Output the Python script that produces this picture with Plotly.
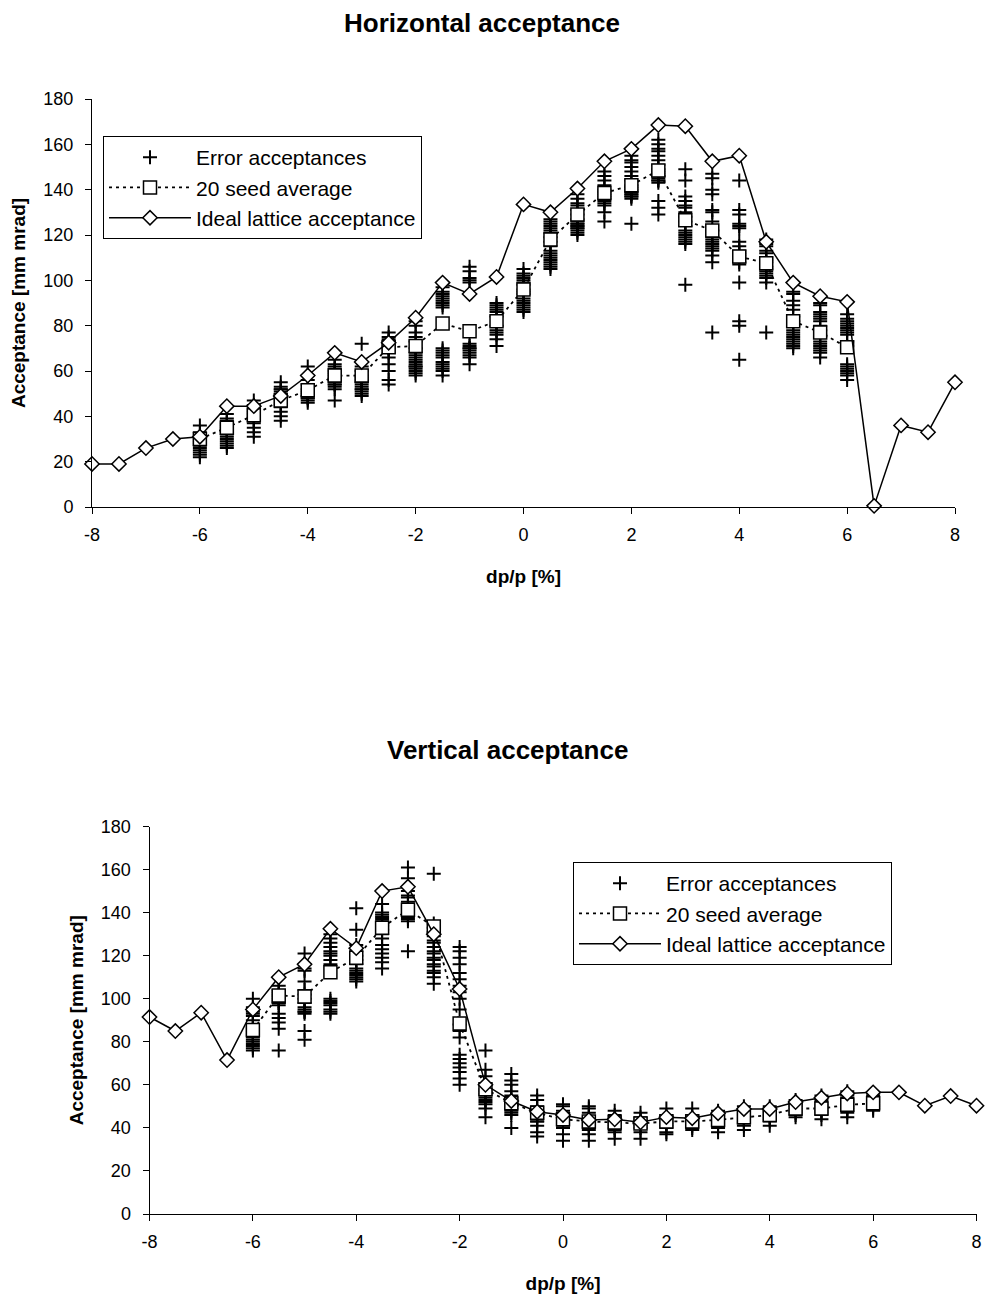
import plotly.graph_objects as go

# Momentum offsets (dp/p in %)
dp_full = [-8, -7.5, -7, -6.5, -6, -5.5, -5, -4.5, -4, -3.5, -3, -2.5, -2, -1.5, -1, -0.5,
           0, 0.5, 1, 1.5, 2, 2.5, 3, 3.5, 4, 4.5, 5, 5.5, 6, 6.5, 7, 7.5, 8]
dp_err = [-6, -5.5, -5, -4.5, -4, -3.5, -3, -2.5, -2, -1.5, -1, -0.5,
          0, 0.5, 1, 1.5, 2, 2.5, 3, 3.5, 4, 4.5, 5, 5.5, 6]

# Horizontal plane
h_ideal = [19, 19, 26, 30, 31, 44.5, 44.5, 49, 58, 68, 64, 72.5, 83.5, 99, 94, 101.5,
           133.5, 130, 140.5, 152.5, 158, 168.5, 168, 152.5, 155, 117, 99, 93, 90.5,
           0.5, 36, 33, 55]
h_avg = [30, 35, 40.5, 47, 51.5, 58, 58, 70.5, 71, 81, 77.5, 82,
         96, 118, 129, 138.5, 142, 148.5, 126.5, 122, 110.5, 107.5, 82, 77, 70.5]
h_err = [
    [36, 33, 31, 30, 29, 28, 27, 26, 25, 24, 23, 22],
    [41, 39, 38, 37, 36, 35, 34, 33, 32, 31, 30, 29, 28, 27, 26],
    [47, 45, 44, 43, 42, 41, 40, 39, 38, 37, 35, 33, 31],
    [55, 53, 52, 52, 51, 50, 49, 48, 47, 46, 45, 44, 42, 40, 38],
    [62, 58, 56, 54, 52, 51, 50, 49, 49, 48, 48, 47, 46],
    [65, 63, 62, 61, 60, 59, 58, 57, 56, 55, 54, 54, 53, 52, 47],
    [72, 62, 60, 58, 57, 56, 55, 55, 54, 53, 52, 52, 51, 50, 49],
    [77, 75, 74, 73, 72, 71, 70, 70, 69, 68, 66, 63, 60, 56, 54],
    [82, 80, 77, 75, 73, 70, 68, 67, 66, 65, 64, 63, 62, 62, 61, 60, 59, 58],
    [97, 95, 94, 93, 92, 91, 90, 89, 88, 70, 69, 68, 67, 66, 64, 63, 62, 61, 60, 58],
    [106, 104, 101, 100, 99, 72, 71, 70, 70, 69, 68, 67, 66, 63],
    [90, 89, 88, 87, 86, 84, 80, 78, 77, 76, 74, 71],
    [105, 103, 102, 101, 100, 99, 98, 96, 95, 94, 92, 91, 90, 89, 88, 87, 86],
    [127, 126, 125, 124, 123, 122, 121, 119, 117, 115, 113, 112, 111, 110, 109, 108, 107, 106, 105],
    [138, 136, 134, 133, 131, 129, 127, 126, 125, 125, 124, 124, 123, 123, 122, 121, 120],
    [148, 146, 144, 142, 140, 139, 138, 137, 136, 135, 134, 133, 130, 126],
    [155, 153, 152, 150, 148, 146, 144, 142, 141, 140, 139, 139, 138, 138, 137, 137, 136, 125],
    [162, 160, 158, 157, 155, 153, 151, 149, 148, 147, 146, 146, 145, 144, 144, 143, 135, 132, 129],
    [149, 144, 137, 135, 133, 132, 130, 128, 126, 124, 122, 121, 120, 119, 118, 117, 116, 98],
    [147, 145, 140, 138, 131, 130, 126, 122, 119, 118, 117, 116, 115, 114, 113, 111, 108, 77],
    [144, 131, 129, 125, 124, 123, 117, 115, 113, 112, 111, 110, 108, 107, 99, 82, 80, 65],
    [118, 116, 115, 113, 112, 110, 109, 108, 106, 105, 104, 103, 102, 101, 99, 77],
    [95, 94, 91, 89, 87, 84, 82, 80, 78, 77, 76, 75, 74, 73, 72, 71, 70],
    [90, 89, 86, 85, 84, 83, 82, 80, 78, 76, 75, 73, 72, 71, 70, 69, 68, 66],
    [85, 83, 82, 81, 80, 79, 78, 77, 76, 73, 71, 63, 62, 61, 60, 59, 58, 56],
]

# Vertical plane
v_ideal = [91.5, 85, 93.5, 71.5, 95, 110, 116, 132.5, 123.5, 150, 152, 130, 104.5, 60, 52.5, 47.5,
           46, 43.7, 44, 42.6, 45, 44.5, 46.8, 48.8, 48.8, 52, 54, 56, 56.5, 56.5, 50.3, 54.8, 50.3]
v_avg = [85.5, 101.5, 101, 112.3, 119, 133, 141.3, 133.5, 88.5, 58, 51.5, 47,
         44, 43, 42.5, 42, 43, 43, 43.7, 45, 46, 49, 49, 50.7, 51.4]
v_err = [
    [100, 96, 94, 93, 92, 90, 88, 87, 86, 85, 84, 83, 82, 81, 80, 79, 78, 77, 76],
    [106, 104, 103, 102, 101, 100, 99, 98, 98, 97, 93, 91, 89, 86, 76],
    [121, 116, 114, 113, 108, 104, 102, 100, 98, 96, 95, 94, 94, 93, 85, 81],
    [130, 128, 126, 124, 122, 121, 120, 118, 116, 100, 99, 98, 97, 95, 94, 93],
    [142, 132, 125, 122, 120, 118, 116, 114, 113, 112, 111, 110, 109, 108],
    [150, 144, 140, 139, 138, 137, 136, 134, 132, 130, 128, 125, 123, 121, 119, 117, 114],
    [161, 156, 150, 148, 147, 145, 143, 142, 141, 140, 139, 138, 137, 136, 122],
    [158, 135, 133, 131, 129, 127, 126, 124, 122, 121, 119, 118, 116, 115, 113, 112, 110, 107],
    [124, 122, 119, 116, 112, 109, 106, 103, 100, 95, 88, 85, 82, 74, 72, 70, 68, 66, 63, 60],
    [76, 67, 64, 60, 58, 57, 56, 55, 54, 53, 52, 51, 49, 45],
    [65, 62, 60, 57, 55, 54, 53, 52, 51, 50, 49, 48, 47, 46, 40],
    [55, 53, 50, 49, 48, 47, 46, 45, 44, 43, 43, 41, 38, 36],
    [51, 50, 48, 47, 46, 45, 44, 43, 42, 41, 40, 37, 34],
    [50, 49, 47, 45, 44, 43, 42, 41, 40, 39, 37, 34],
    [48, 46, 44, 43, 42, 41, 40, 39, 38, 35],
    [47, 45, 44, 43, 42, 41, 40, 38, 35],
    [49, 46, 45, 44, 43, 42, 41, 40, 38, 37],
    [49, 46, 45, 44, 43, 42, 41, 40, 39],
    [48, 46, 45, 44, 43, 42, 41, 40, 38],
    [50, 48, 47, 46, 45, 44, 43, 42, 41, 39],
    [50, 49, 48, 47, 46, 45, 44, 43, 41],
    [53, 52, 51, 50, 49, 48, 47, 46, 45],
    [55, 53, 52, 51, 50, 49, 48, 47, 46, 44],
    [57, 55, 54, 53, 52, 51, 50, 49, 48, 47, 45],
    [56, 55, 54, 53, 52, 51, 50, 49, 48],
]

x_ticks = [-8, -6, -4, -2, 0, 2, 4, 6, 8]
x_labels = ["-8", "-6", "-4", "-2", "0", "2", "4", "6", "8"]
y_ticks = [0, 20, 40, 60, 80, 100, 120, 140, 160, 180]

FONT = "Arial, Liberation Sans, sans-serif"
NAMES = ["Error acceptances", "20 seed average", "Ideal lattice acceptance"]


def flatten(xs, groups):
    fx, fy = [], []
    for x, vals in zip(xs, groups):
        for v in vals:
            fx.append(x)
            fy.append(v)
    return fx, fy


def add_panel(fig, err, avg, ideal, xa, ya, legend):
    ex, ey = flatten(dp_err, err)
    fig.add_trace(go.Scatter(
        x=ex, y=ey, mode="markers", name=NAMES[0], legend=legend, legendgroup=legend + "a",
        xaxis=xa, yaxis=ya, cliponaxis=False,
        marker=dict(symbol="cross-thin", size=10, line=dict(width=2, color="black"), color="black"),
    ))
    fig.add_trace(go.Scatter(
        x=dp_err, y=avg, mode="lines+markers", name=NAMES[1], legend=legend, legendgroup=legend + "b",
        xaxis=xa, yaxis=ya, cliponaxis=False,
        line=dict(color="black", width=1.8, dash="3px,4px"),
        marker=dict(symbol="square", size=13, color="white", line=dict(width=1.5, color="black")),
    ))
    fig.add_trace(go.Scatter(
        x=dp_full, y=ideal, mode="lines+markers", name=NAMES[2], legend=legend, legendgroup=legend + "c",
        xaxis=xa, yaxis=ya, cliponaxis=False,
        line=dict(color="black", width=1.5),
        marker=dict(symbol="diamond", size=11, color="white", line=dict(width=1.5, color="black")),
    ))


fig = go.Figure()
add_panel(fig, h_err, h_avg, h_ideal, "x", "y", "legend")
add_panel(fig, v_err, v_avg, v_ideal, "x2", "y2", "legend2")

W, H = 985, 1295


def xaxis(domain, anchor, **kw):
    d = dict(domain=domain, anchor=anchor, range=[-8, 8], tickvals=x_ticks, ticktext=x_labels,
             automargin=False,
             showgrid=False, zeroline=False, showline=True, linecolor="black", linewidth=1,
             ticks="outside", ticklen=6, tickwidth=1, tickcolor="black",
             tickfont=dict(family=FONT, size=18, color="black"), ticklabelstandoff=5,
             title=dict(text="<b>dp/p [%]</b>", font=dict(family=FONT, size=19, color="black"), standoff=26))
    d.update(kw)
    return d


def yaxis(domain, anchor, **kw):
    d = dict(domain=domain, anchor=anchor, range=[0, 180], tickvals=y_ticks,
             automargin=False,
             showgrid=False, zeroline=False, showline=True, linecolor="black", linewidth=1,
             ticks="outside", ticklen=6, tickwidth=1, tickcolor="black",
             tickfont=dict(family=FONT, size=18, color="black"), ticklabelstandoff=8,
             title=dict(text="<b>Acceptance [mm mrad]</b>", font=dict(family=FONT, size=19, color="black"),
                        standoff=12))
    d.update(kw)
    return d


def inner_ticks(base, anchor, vals, rng):
    return dict(overlaying=base, anchor=anchor, range=rng, tickvals=vals, showticklabels=False,
                automargin=False, showgrid=False, zeroline=False, showline=False,
                ticks="inside", ticklen=6, tickwidth=1, tickcolor="black")


top_x = [92 / W, 955 / W]
top_y = [1 - 507 / H, 1 - 99 / H]
bot_x = [149.5 / W, 976.5 / W]
bot_y = [1 - 1214 / H, 1 - 826.5 / H]

legend_style = dict(bgcolor="white", bordercolor="black", borderwidth=1,
                    font=dict(family=FONT, size=21, color="black"),
                    xanchor="left", yanchor="top", tracegroupgap=0, itemwidth=82,
                    traceorder="grouped")

fig.update_layout(
    width=W, height=H, margin=dict(l=0, r=0, t=0, b=0, autoexpand=False),
    paper_bgcolor="white", plot_bgcolor="white", showlegend=True,
    font=dict(family=FONT, color="black"),
    xaxis=xaxis(top_x, "y"),
    yaxis=yaxis(top_y, "x"),
    xaxis2=xaxis(bot_x, "y2"),
    yaxis2=yaxis(bot_y, "x2"),
    xaxis3=inner_ticks("x", "y", x_ticks, [-8, 8]),
    yaxis3=inner_ticks("y", "x", y_ticks, [0, 180]),
    xaxis4=inner_ticks("x2", "y2", x_ticks, [-8, 8]),
    yaxis4=inner_ticks("y2", "x2", y_ticks, [0, 180]),
    legend=dict(x=103 / W, y=1 - 136 / H, **legend_style),
    legend2=dict(x=573 / W, y=1 - 862 / H, **legend_style),
    annotations=[
        dict(text="<b>Horizontal acceptance</b>", xref="paper", yref="paper",
             x=482 / W, y=1 - 23 / H, xanchor="center", yanchor="middle", showarrow=False,
             font=dict(family=FONT, size=26, color="black")),
        dict(text="<b>Vertical acceptance</b>", xref="paper", yref="paper",
             x=508 / W, y=1 - 750 / H, xanchor="center", yanchor="middle", showarrow=False,
             font=dict(family=FONT, size=26, color="black")),
    ],
)

fig.write_html("out.html")
